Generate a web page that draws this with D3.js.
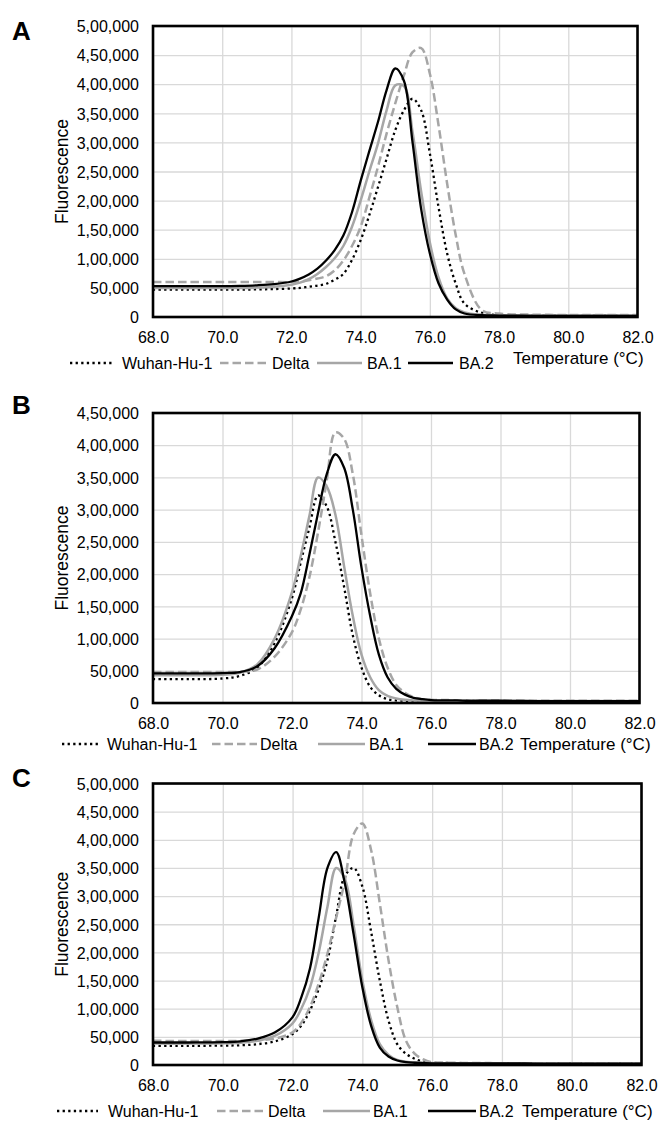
<!DOCTYPE html>
<html>
<head>
<meta charset="utf-8">
<script src="https://cdn.jsdelivr.net/npm/d3@7"></script>
<style>
  html, body { margin: 0; padding: 0; background: #fff; }
  svg { display: block; font-family: "Liberation Sans", Arial, sans-serif; }
</style>
</head>
<body>
<svg id="chart" width="660" height="1121"></svg>
<script>
// ---------------- DATA ----------------
const temps = [68, 69, 70, 70.5, 71, 71.5, 72, 72.25, 72.5, 72.75, 73, 73.25, 73.5, 73.75, 74, 74.25, 74.5, 74.75, 75, 75.25, 75.5, 75.75, 76, 76.25, 76.5, 76.75, 77, 77.5, 78, 79, 80, 81, 82];

const seriesNames = ["Wuhan-Hu-1", "Delta", "BA.1", "BA.2"];

// Panel A
const wuhanA = [47000, 47000, 47000, 47000, 47500, 48000, 49000, 50000, 52000, 54000, 57000, 64000, 74000, 98000, 132000, 175000, 223000, 272000, 321000, 355000, 375000, 355000, 281000, 189000, 109000, 57000, 23000, 7000, 3000, 2500, 2500, 2500, 2500];
const deltaA = [60000, 60000, 60000, 60000, 60000, 60000, 60000, 61000, 63000, 66000, 70000, 80000, 97000, 122000, 155000, 205000, 258000, 315000, 367000, 415000, 455000, 462000, 418000, 330000, 229000, 140000, 74000, 12000, 6000, 4000, 3500, 3500, 3500];
const ba1A = [50000, 50000, 50000, 50000, 50500, 52000, 55500, 59000, 65000, 74000, 86000, 101000, 122000, 155000, 200000, 250000, 298000, 355000, 398000, 397000, 318000, 215000, 128000, 68000, 32000, 15000, 8000, 4000, 3000, 2500, 2500, 2500, 2500];
const ba2A = [53000, 53000, 53000, 53500, 54500, 56500, 61000, 66000, 73000, 83000, 97000, 115000, 140000, 180000, 234000, 285000, 335000, 390000, 427000, 406000, 300000, 185000, 109000, 58000, 30000, 13000, 6000, 3000, 2500, 2000, 2000, 2000, 2000];

// Panel B
const wuhanB = [37000, 37000, 38000, 42000, 55000, 93000, 163000, 218000, 272000, 322000, 305000, 250000, 180000, 105000, 55000, 25000, 12000, 6000, 4000, 3500, 3000, 3000, 3000, 3000, 3000, 3000, 3000, 3000, 3000, 3000, 3000, 3000, 3000];
const deltaB = [48000, 48000, 48000, 48500, 52000, 72000, 110000, 145000, 195000, 265000, 345000, 420000, 410000, 355000, 260000, 170000, 100000, 55000, 28000, 16000, 9000, 6000, 5000, 4500, 4500, 4000, 4000, 4000, 4000, 3500, 3500, 3500, 3500];
const ba1B = [43000, 43000, 44000, 47000, 60000, 100000, 172000, 228000, 290000, 350000, 336000, 292000, 212000, 135000, 75000, 40000, 20000, 11000, 7000, 5000, 4000, 3500, 3000, 3000, 3000, 3000, 3000, 3000, 3000, 3000, 3000, 3000, 3000];
const ba2B = [46000, 46000, 46500, 48000, 57000, 85000, 135000, 170000, 230000, 295000, 355000, 386000, 365000, 300000, 210000, 135000, 75000, 40000, 22000, 13000, 8000, 6000, 4500, 4000, 4000, 4000, 3500, 3500, 3500, 3000, 3000, 3000, 3000];

// Panel C
const wuhanC = [34000, 34000, 34500, 35000, 37000, 42000, 55000, 70000, 97000, 135000, 186000, 265000, 336000, 350000, 317000, 237000, 150000, 79000, 37000, 20000, 11000, 6000, 4000, 3500, 3500, 3000, 3000, 3000, 3000, 3000, 3000, 3000, 3000];
const deltaC = [43000, 42500, 42500, 43000, 44000, 47000, 58000, 75000, 103000, 145000, 198000, 262000, 328000, 410000, 429000, 382000, 287000, 186000, 103000, 43000, 20000, 10000, 5000, 4500, 4000, 4000, 3500, 3500, 3000, 3000, 3000, 3000, 3000];
const ba1C = [38000, 38000, 38500, 39500, 43000, 52000, 74000, 100000, 138000, 200000, 281000, 350000, 330000, 248000, 150000, 80000, 37000, 18000, 9000, 6000, 4500, 4000, 3500, 3000, 3000, 3000, 3000, 3000, 3000, 2500, 2500, 2500, 2500];
const ba2C = [40000, 40000, 40500, 42000, 47000, 58000, 85000, 120000, 172000, 262000, 350000, 378000, 322000, 232000, 138000, 70000, 31000, 15000, 8000, 5000, 4000, 3500, 3000, 3000, 3000, 3000, 3000, 3000, 3000, 2500, 2500, 2500, 2500];

const xTicks = [68, 70, 72, 74, 76, 78, 80, 82];
const yTicks500 = [0, 50000, 100000, 150000, 200000, 250000, 300000, 350000, 400000, 450000, 500000];
const yTicks450 = [0, 50000, 100000, 150000, 200000, 250000, 300000, 350000, 400000, 450000];
const yTickLabels = {0: "0", 50000: "50,000", 100000: "1,00,000", 150000: "1,50,000", 200000: "2,00,000", 250000: "2,50,000", 300000: "3,00,000", 350000: "3,50,000", 400000: "4,00,000", 450000: "4,50,000", 500000: "5,00,000"};

const yLabel = "Fluorescence";
const xLabel = "Temperature (°C)";

// ---------------- STYLES / LAYOUT ----------------
const styles = [
  { stroke: "#000000", width: 2.3, dash: "2.3,3.3" },
  { stroke: "#a6a6a6", width: 2.5, dash: "8.5,4" },
  { stroke: "#a6a6a6", width: 2.5, dash: null },
  { stroke: "#000000", width: 2.3, dash: null }
];

const panels = [
  { letter: "A", letterY: 39.5, left: 153, right: 637.5, top: 26, bottom: 317, yTicks: yTicks500,
    series: [wuhanA, deltaA, ba1A, ba2A], legendY: 369, tempY: 364,
    legendX: [[70, 113, 122], [220, 267, 272], [317, 362, 367], [408, 453, 459]], tempX: 513 },
  { letter: "B", letterY: 414, left: 153, right: 639.5, top: 413, bottom: 703, yTicks: yTicks450,
    series: [wuhanB, deltaB, ba1B, ba2B], legendY: 750, tempY: 750,
    legendX: [[62, 100, 107], [212, 257, 260], [318, 365, 369], [428, 476, 479]], tempX: 520 },
  { letter: "C", letterY: 786.5, left: 153, right: 641.5, top: 783.5, bottom: 1065, yTicks: yTicks500,
    series: [wuhanC, deltaC, ba1C, ba2C], legendY: 1117, tempY: 1117,
    legendX: [[57, 98, 108], [217, 264, 268], [323, 370, 373], [428, 476, 479]], tempX: 522 }
];

const svg = d3.select("#chart");

panels.forEach(p => {
  const g = svg.append("g");
  const x = d3.scaleLinear().domain([68, 82]).range([p.left, p.right]);
  const y = d3.scaleLinear().domain([0, d3.max(p.yTicks)]).range([p.bottom, p.top]);
  const w = p.right - p.left, h = p.bottom - p.top;

  // gridlines via axes
  const gx = g.append("g").attr("transform", `translate(0,${p.bottom})`)
    .call(d3.axisBottom(x).tickValues(xTicks).tickSize(-h).tickFormat(d3.format(".1f")).tickPadding(0));
  gx.select(".domain").remove();
  gx.selectAll(".tick line").attr("stroke", "#d9d9d9").attr("stroke-width", 1.3);
  gx.selectAll(".tick text").attr("y", 26).attr("dy", null)
    .attr("font-size", 16).attr("fill", "#000").attr("font-family", "Liberation Sans, Arial, sans-serif");

  const gy = g.append("g").attr("transform", `translate(${p.left},0)`)
    .call(d3.axisLeft(y).tickValues(p.yTicks).tickSize(-w).tickFormat(d => yTickLabels[d]).tickPadding(0));
  gy.select(".domain").remove();
  gy.selectAll(".tick line").attr("stroke", "#d9d9d9").attr("stroke-width", 1.3);
  gy.selectAll(".tick text").attr("x", -14).attr("dy", "0.36em")
    .attr("font-size", 16).attr("fill", "#000").attr("font-family", "Liberation Sans, Arial, sans-serif");

  // curves
  const line = d3.line().x((d, i) => x(temps[i])).y(d => y(d)).curve(d3.curveCatmullRom.alpha(0.5));
  p.series.forEach((s, k) => {
    const st = styles[k];
    g.append("path").datum(s).attr("d", line).attr("fill", "none")
      .attr("stroke", st.stroke).attr("stroke-width", st.width)
      .attr("stroke-dasharray", st.dash).attr("stroke-linejoin", "round");
  });

  // frame
  g.append("rect").attr("x", p.left).attr("y", p.top).attr("width", w).attr("height", h)
    .attr("fill", "none").attr("stroke", "#000").attr("stroke-width", 2.6);

  // panel letter
  g.append("text").attr("x", 12).attr("y", p.letterY).text(p.letter)
    .attr("font-size", 26).attr("font-weight", "bold").attr("fill", "#000");

  // y label
  g.append("text").attr("transform", `translate(62,${(p.top + p.bottom) / 2}) rotate(-90)`)
    .attr("text-anchor", "middle").attr("dy", "0.35em").attr("font-size", 17.5).text(yLabel);

  // legend
  p.legendX.forEach((lx, k) => {
    const st = styles[k];
    g.append("line").attr("x1", lx[0]).attr("x2", lx[1]).attr("y1", p.legendY - 6).attr("y2", p.legendY - 6)
      .attr("stroke", st.stroke).attr("stroke-width", st.width).attr("stroke-dasharray", st.dash);
    g.append("text").attr("x", lx[2]).attr("y", p.legendY).attr("font-size", 16).text(seriesNames[k]);
  });
  g.append("text").attr("x", p.tempX).attr("y", p.tempY).attr("font-size", 17).text(xLabel);
});
</script>
</body>
</html>
